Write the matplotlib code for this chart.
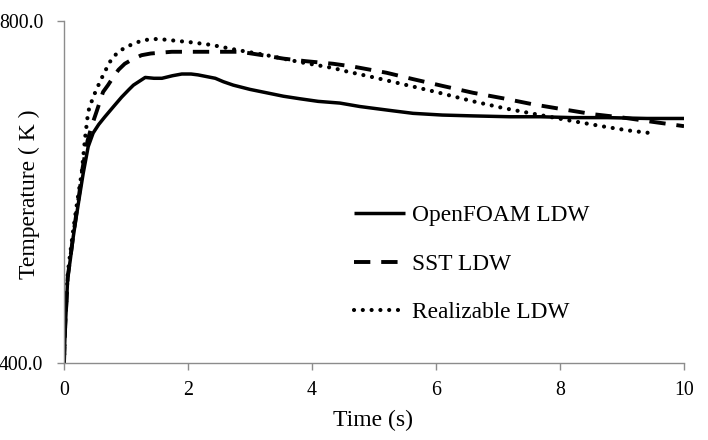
import matplotlib
matplotlib.use("Agg")
import matplotlib.pyplot as plt
from matplotlib.ticker import FormatStrFormatter

plt.rcParams['font.family'] = ['Liberation Serif', 'DejaVu Serif']

# OpenFOAM LDW (solid)
t_openfoam = [0, 0.02, 0.06, 0.1, 0.15, 0.2, 0.25, 0.31, 0.39, 0.47, 0.56, 0.66, 0.8, 0.93,
              1.05, 1.12, 1.31, 1.45, 1.58, 1.75, 1.9, 2.05, 2.16, 2.44, 2.57, 2.73, 3.0, 3.27,
              3.54, 3.81, 4.1, 4.45, 4.77, 4.98, 5.3, 5.63, 6.1, 6.6, 7.2, 7.68, 8.2, 8.76, 9.4, 10.0]
T_openfoam = [400, 440, 500, 520, 548, 572, 595, 622, 653, 669, 679, 688, 700, 711,
              720, 725, 734, 733, 733, 736, 738, 738, 737, 733, 729, 725, 720, 716,
              712, 709, 706, 704, 700, 698, 695, 692, 690, 689, 688, 688, 687, 687, 686, 686]

# SST LDW (dashed)
t_sst = [0, 0.02, 0.06, 0.1, 0.15, 0.2, 0.25, 0.3, 0.38, 0.45, 0.53, 0.63, 0.71, 0.8, 0.88,
         0.98, 1.1, 1.25, 1.4, 1.74, 2.0, 2.27, 2.6, 2.84, 3.2, 3.54, 3.9, 4.34, 4.67, 5.2,
         5.63, 6.11, 6.6, 7.08, 7.56, 8.05, 8.53, 9.02, 9.5, 10.0]
T_sst = [400, 445, 500, 522, 550, 575, 600, 628, 660, 678, 695, 717, 725, 735, 743,
         750, 755, 760, 762, 764, 764, 764, 764, 764, 760, 756, 753, 750, 746.6, 739.5,
         732, 724, 716, 709.6, 702.6, 696.7, 691, 687, 682, 677]

# Realizable LDW (dotted)
t_real = [0, 0.02, 0.06, 0.1, 0.15, 0.2, 0.25, 0.285, 0.34, 0.39, 0.47, 0.58, 0.66, 0.77,
          0.88, 1.01, 1.25, 1.39, 1.52, 1.79, 2.06, 2.38, 2.8, 3.27, 3.8, 4.34, 4.56, 5.0,
          5.53, 6.0, 6.6, 7.1, 7.68, 8.2, 8.75, 9.1, 9.45]
T_real = [400, 450, 505, 528, 556, 582, 606, 622, 663, 694, 711, 729, 741, 756,
          764, 770, 777, 778.6, 779, 777, 775, 772, 766, 760, 752, 745, 741, 734,
          725, 717, 706, 698, 690, 683, 676, 672, 669]

labels = ["OpenFOAM LDW", "SST LDW", "Realizable LDW"]
x_ticks = [0, 2, 4, 6, 8, 10]
y_ticks = [400, 800]

fig = plt.figure(figsize=(7.08, 4.4), dpi=100)
ax = fig.add_axes([64/708, 1-363/440, 620/708, 342/440])

ax.plot(t_openfoam, T_openfoam, color='black', lw=2.5, solid_capstyle='butt', label=labels[0])
ax.plot(t_sst, T_sst, color='black', lw=2.8, linestyle=(0, (4.2, 2.8)), label=labels[1])
ax.plot(t_real, T_real, color='black', lw=3.0, linestyle=(0, (0.01, 2.1)),
        dash_capstyle='round', label=labels[2])

ax.set_xlim(0, 10)
ax.set_ylim(400, 800)
ax.set_xticks(x_ticks)
ax.set_yticks(y_ticks)
ax.yaxis.set_major_formatter(FormatStrFormatter('%.1f'))

for s in ['top', 'right']:
    ax.spines[s].set_visible(False)
for s in ['left', 'bottom']:
    ax.spines[s].set_color('#8c8c8c')
    ax.spines[s].set_linewidth(1.0)
ax.tick_params(axis='both', colors='#8c8c8c', labelcolor='black', labelsize=14.3,
               length=5, width=1.0, direction='out')
ax.tick_params(axis='x', pad=8)
ax.tick_params(axis='y', pad=10)

ax.set_xlabel("Time (s)", fontsize=17)
ax.set_ylabel("Temperature ( K )", fontsize=17)
ax.xaxis.set_label_coords((373 - 64) / 620, -(420 - 363) / 342)
ax.xaxis.label.set_va('center')
ax.yaxis.set_label_coords(-(64 - 29) / 620, (363 - 194) / 342)
ax.yaxis.label.set_va('center')

leg = ax.legend(loc='upper left', bbox_to_anchor=(354/708, 1-205/440),
                bbox_transform=fig.transFigure, frameon=False, fontsize=16.8,
                handlelength=2.2, handletextpad=0.3, labelspacing=1.16,
                borderaxespad=0, borderpad=0)

fig.savefig("out.png", dpi=100)
